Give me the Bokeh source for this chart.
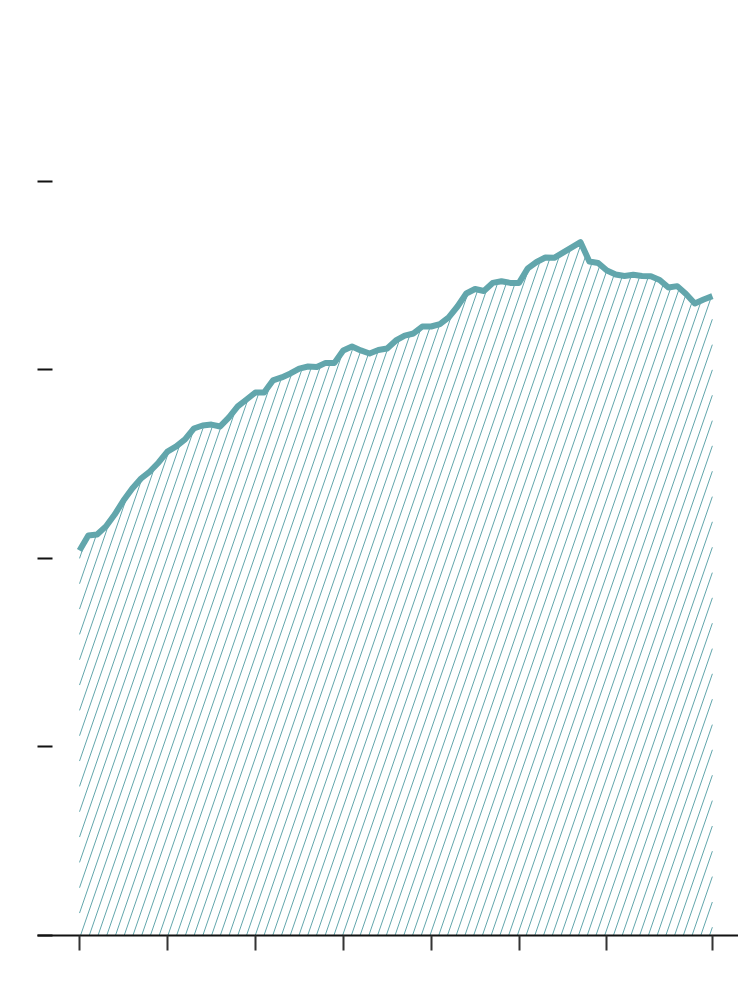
import numpy as np
from bokeh.plotting import figure
from bokeh.models import Range1d, FixedTicker
from bokeh.embed import file_html
from bokeh.resources import INLINE

# ---- data ----
years = list(range(1950, 2023))
values = [20.41, 21.21, 21.26, 21.69, 22.32, 23.06, 23.70, 24.23, 24.60, 25.08,
          25.66, 25.93, 26.30, 26.88, 27.04, 27.09, 26.99, 27.47, 28.05, 28.42,
          28.79, 28.79, 29.43, 29.59, 29.80, 30.06, 30.17, 30.14, 30.36, 30.36,
          31.02, 31.23, 31.02, 30.86, 31.04, 31.12, 31.55, 31.81, 31.92, 32.29,
          32.29, 32.42, 32.77, 33.35, 34.04, 34.28, 34.17, 34.60, 34.69, 34.60,
          34.60, 35.37, 35.71, 35.95, 35.93, 36.21, 36.48, 36.76, 35.74, 35.66,
          35.26, 35.05, 34.97, 35.03, 34.97, 34.96, 34.76, 34.36, 34.43, 34.01,
          33.51, 33.72, 33.90]
x_ticks = [1950, 1960, 1970, 1980, 1990, 2000, 2010, 2022]
y_ticks = [0, 10, 20, 30, 40]

TEAL = "#62a6ac"

x_lo, x_hi = 1945.22, 2024.97
y_lo, y_hi = 0, 48.62
FW, FH = 701, 917

p = figure(frame_width=FW, frame_height=FH, output_backend="svg",
           toolbar_location=None, x_range=Range1d(x_lo, x_hi),
           y_range=Range1d(y_lo, y_hi), min_border_left=37,
           min_border_right=0, min_border_top=18, min_border_bottom=30,
           background_fill_color="white", border_fill_color="white")
p.outline_line_color = None
p.grid.grid_line_color = None

# ---- hatch lines computed from the series ----
px_per_x = FW / (x_hi - x_lo)
px_per_y = FH / (y_hi - y_lo)
slope = 2.9            # vertical px per horizontal px
spacing_px = 8.736
k_s = px_per_y / (slope * px_per_x)   # years per unit of value along a hatch line
xs_arr = np.array(years, dtype=float)
vs_arr = np.array(values, dtype=float)
x0s, y0s, x1s, y1s = [], [], [], []
start = years[0] + 1.0 / px_per_x
n_left = int(np.ceil(max(values) * k_s * px_per_x / spacing_px)) + 1
for k in range(-n_left, 80):
    xb = start + k * spacing_px / px_per_x
    if xb > years[-1]:
        break
    v0 = 0.0 if xb >= years[0] else (years[0] - xb) / k_s
    vv = np.linspace(v0, max(values) + 1, 3000)
    xx = xb + vv * k_s
    inside = xx <= years[-1]
    cur = np.interp(xx, xs_arr, vs_arr)
    below = (vv <= cur) & inside
    if not below[0]:
        continue
    idx = np.argmin(below) if not below.all() else len(vv) - 1
    idx = max(idx - 1, 0)
    if vv[idx] <= v0:
        continue
    x0s.append(xb + v0 * k_s); y0s.append(v0)
    x1s.append(xx[idx]); y1s.append(vv[idx])

p.segment(x0=x0s, y0=y0s, x1=x1s, y1=y1s, line_color=TEAL, line_width=1.0)
p.line(years, values, line_color=TEAL, line_width=6, line_join="round")

# ---- axes ----
p.xaxis.ticker = FixedTicker(ticks=x_ticks)
p.xaxis.axis_line_color = "#111111"
p.xaxis.axis_line_width = 2
p.xaxis.major_tick_out = 15
p.xaxis.major_tick_in = 0
p.xaxis.major_tick_line_color = "#333333"
p.xaxis.major_tick_line_width = 2
p.xaxis.minor_tick_line_color = None
p.xaxis.major_label_text_color = None
p.xaxis.major_label_text_font_size = "1px"
p.xaxis.major_label_standoff = 0

p.yaxis.ticker = FixedTicker(ticks=y_ticks)
p.yaxis.axis_line_color = None
p.yaxis.major_tick_in = 15
p.yaxis.major_tick_out = 0
p.yaxis.major_tick_line_color = "#111111"
p.yaxis.major_tick_line_width = 2
p.yaxis.minor_tick_line_color = None
p.yaxis.major_label_text_color = None
p.yaxis.major_label_text_font_size = "1px"
p.yaxis.major_label_standoff = 0

open("out.html", "w").write(file_html(p, INLINE))
